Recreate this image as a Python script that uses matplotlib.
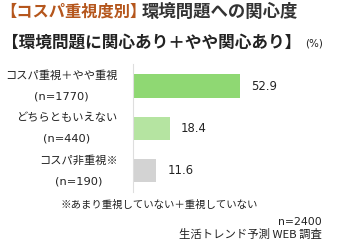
import matplotlib
matplotlib.use("Agg")
import matplotlib.pyplot as plt

plt.rcParams['font.family'] = ['Noto Sans CJK JP', 'DejaVu Sans']

categories = ["コスパ重視＋やや重視", "どちらともいえない", "コスパ非重視※"]
sample_sizes = ["(n=1770)", "(n=440)", "(n=190)"]
values = [52.9, 18.4, 11.6]
value_labels = ["52.9", "18.4", "11.6"]
colors = ["#8fd873", "#b5e4a1", "#d3d3d3"]

W, H = 350, 247
fig = plt.figure(figsize=(W / 100, H / 100), dpi=100)
fig.patch.set_facecolor("white")

def fx(px):
    return px / W

def fy(py):
    return 1 - py / H

# plot area in pixel terms
left, right, top, bottom = 132.5, 332.5, 64, 192
ax = fig.add_axes([fx(left), fy(bottom), fx(right) - fx(left), (bottom - top) / H])
ypos = list(range(len(values)))
ax.barh(ypos, values, height=0.55, color=colors, edgecolor="none")
ax.set_xlim(0, 98)
ax.set_ylim(2.5, -0.52)
for s in ["top", "right", "bottom"]:
    ax.spines[s].set_visible(False)
ax.spines["left"].set_color("#dedede")
ax.spines["left"].set_linewidth(0.8)
ax.set_xticks([])
ax.set_yticks([])

for y, v, lab in zip(ypos, values, value_labels):
    ax.annotate(lab, xy=(v, y), xytext=(11, 0), textcoords="offset pixels",
                ha="left", va="center", fontsize=8.4, color="#222222",
                family=["DejaVu Sans"])

fig.canvas.draw()
renderer = fig.canvas.get_renderer()

# two-line category labels: name above, sample size below, centred as a block
for y, cat, n in zip(ypos, categories, sample_sizes):
    t = ax.annotate(cat, xy=(0, y), xytext=(-15, 10.5), textcoords="offset pixels",
                    ha="right", va="center", fontsize=8.1, color="#222222")
    e = t.get_window_extent(renderer=renderer)
    cx = (e.x0 + e.x1) / 2
    yc = (e.y0 + e.y1) / 2 - 21
    fig.text(cx / W, yc / H, n, ha="center", va="center", fontsize=8.2,
             color="#222222", family=["DejaVu Sans"])

# title, first line in two colours
fig.text(fx(0.5), fy(12), "【コスパ重視度別】", fontsize=11.7, fontweight="bold",
         color="#b5561c", ha="left", va="center")
fig.text(fx(142), fy(12), "環境問題への関心度", fontsize=12.5, fontweight="bold",
         color="#333333", ha="left", va="center")
fig.text(fx(2), fy(43), "【環境問題に関心あり＋やや関心あり】", fontsize=12.0,
         fontweight="bold", color="#222222", ha="left", va="center")
fig.text(fx(305), fy(44), "(%)", fontsize=7.5, color="#222222", ha="left",
         va="center", family=["DejaVu Sans"])

fig.text(fx(60), fy(205), "※あまり重視していない＋重視していない", fontsize=7.5,
         color="#222222", ha="left", va="center")
fig.text(fx(322), fy(222), "n=2400", fontsize=7.8, color="#222222", ha="right",
         va="center", family=["DejaVu Sans"])
fig.text(fx(322), fy(234), "生活トレンド予測 WEB 調査", fontsize=8.2, color="#222222",
         ha="right", va="center")

fig.savefig("out.png", dpi=100, facecolor="white")
